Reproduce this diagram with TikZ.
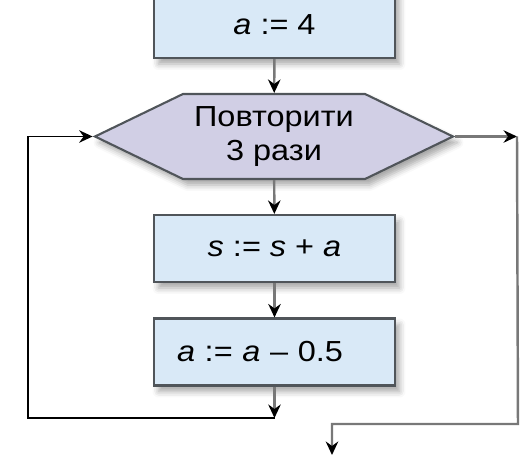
\documentclass[tikz,border=0pt]{standalone}
\usepackage{fontspec}
\setmainfont{Liberation Sans}[FakeStretch=1.12]
\usetikzlibrary{arrows.meta}
\usetikzlibrary{shapes.symbols}
\usetikzlibrary{shadows.blur}
\definecolor{boxfill}{RGB}{217,233,247}
\definecolor{hexfill}{RGB}{209,207,229}
\definecolor{boxline}{RGB}{80,85,90}
\definecolor{wire}{RGB}{120,120,120}

\begin{document}
\begin{tikzpicture}[x=0.02cm, y=-0.02cm,
    font=\fontsize{16.5}{19}\selectfont,
    shade/.style={blur shadow={shadow xshift=0.09cm, shadow yshift=-0.12cm,
        shadow blur radius=0.12cm, shadow opacity=35}},
    opbox/.style={draw=boxline, line width=1.2pt, fill=boxfill, shade,
        minimum width=4.82cm, minimum height=1.34cm},
    loopbox/.style={draw=boxline, line width=1.2pt, fill=hexfill, shade,
        signal, signal to=west and east, signal pointer angle=51.6,
        minimum width=7.16cm, minimum height=1.7cm, align=center},
    tip/.style={-{Stealth[black, length=0.27cm, width=0.25cm, inset=0.09cm]}},
    wireline/.style={draw=wire, line width=1.4pt},
    backline/.style={draw=black, line width=0.9pt}]
    \useasboundingbox (0,0) rectangle (525,456);
    \node [opbox] (init) at (274.5,24.5) {\textit{a} := 4};
    \node [loopbox] (loop) at (274,136.5) {Повторити\\3 рази};
    \node [opbox] (sum) at (274.5,248.5) {\textit{s} := \textit{s} + \textit{a}};
    \node [opbox, text width=3.9cm, inner xsep=0.46cm, align=left] (dec) at (274.5,352)
        {\textit{a} := \textit{a} – 0.5};
    \coordinate (back) at (274.5,418);
    \coordinate (backcorner) at (28,418);
    \coordinate (exitright) at (517,136.5);
    \coordinate (exitturn) at (518,424);
    \coordinate (exitdown) at (332,424);
    \coordinate (exitend) at (332,455);
    \draw [wireline, tip] (init) -- (loop);
    \draw [wireline, tip] (loop) -- (sum);
    \draw [wireline, tip] (sum) -- (dec);
    \draw [wireline, tip] (dec) -- (back);
    \draw [backline, tip] (back) -- (backcorner) |- (loop.west);
    \draw [wireline, tip] (loop.east) -- (exitright);
    \draw [wireline, tip] (exitright) -- (exitturn) -- (exitdown) -- (exitend);
\end{tikzpicture}
\end{document}
